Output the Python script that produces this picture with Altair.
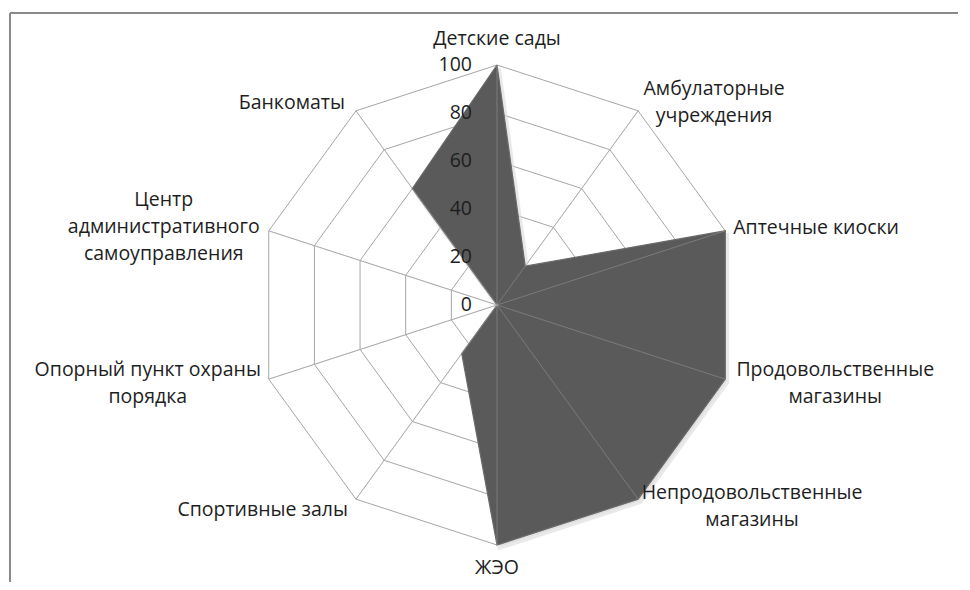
import altair as alt
import pandas as pd

# ---- data ----
categories = [
    "Детские сады",
    "Амбулаторные\nучреждения",
    "Аптечные киоски",
    "Продовольственные\nмагазины",
    "Непродовольственные\nмагазины",
    "ЖЭО",
    "Спортивные залы",
    "Опорный пункт охраны\nпорядка",
    "Центр\nадминистративного\nсамоуправления",
    "Банкоматы",
]
values = [100, 20, 100, 100, 100, 100, 25, 0, 0, 60]
ticks = [0, 20, 40, 60, 80, 100]
tick_labels = ["0", "20", "40", "60", "80", "100"]

N = len(categories)
RMAX = ticks[-1]

poly_df = pd.DataFrame({"idx": list(range(N)) + [N], "value": values + [values[0]]})
ring_rows = []
for lv in ticks[1:]:
    for i in range(N + 1):
        ring_rows.append({"level": lv, "idx": i, "value": lv})
ring_df = pd.DataFrame(ring_rows)
spoke_df = pd.DataFrame({"idx": list(range(N)), "value": [RMAX] * N})
tick_df = pd.DataFrame({"tick": ticks, "label": tick_labels})
label_df = pd.DataFrame({"idx": list(range(N)), "label": categories, "value": [RMAX] * N})

FONT = "Open Sans"
FS = 19.5
TXT = "#1e1e1e"
GRID = "#a6a6a6"
W, H = 950, 574

XS = alt.Scale(domain=[-203.75, -203.75 + W / 2.4], nice=False, zero=False)
YS = alt.Scale(domain=[123.75 - H / 2.4, 123.75], nice=False, zero=False)


def polar(ch, dxu=0.0, dyu=0.0):
    return ch.transform_calculate(
        theta=f"datum.idx * 2 * PI / {N}"
    ).transform_calculate(
        px=f"datum.value * sin(datum.theta) + {dxu}",
        py=f"datum.value * cos(datum.theta) + {dyu}",
    )


def xy(order=None, detail=None):
    enc = dict(
        x=alt.X("px:Q", scale=XS, axis=None),
        y=alt.Y("py:Q", scale=YS, axis=None),
    )
    if order:
        enc["order"] = alt.Order(order)
    if detail:
        enc["detail"] = detail
    return enc


rings = polar(alt.Chart(ring_df).mark_line(stroke=GRID, strokeWidth=1)).encode(
    **xy("idx:Q", "level:N")
)

spokes_base = polar(alt.Chart(spoke_df).mark_rule(stroke=GRID, strokeWidth=1)).transform_calculate(
    zero="0"
).encode(
    x=alt.X("zero:Q", scale=XS, axis=None),
    y=alt.Y("zero:Q", scale=YS, axis=None),
    x2="px:Q",
    y2="py:Q",
)

shadow = polar(
    alt.Chart(poly_df).mark_line(fill="#c8c8c8", stroke="#d8d8d8", strokeWidth=3, opacity=0.55),
    1.0, -1.4,
).encode(**xy("idx:Q"))

area = polar(
    alt.Chart(poly_df).mark_line(fill="#5a5a5a", stroke="#6a6a6a", strokeWidth=1.2)
).encode(**xy("idx:Q"))

spokes_top = polar(alt.Chart(spoke_df).mark_rule(stroke="#b8b8b8", strokeWidth=1, opacity=0.35)).transform_calculate(
    zero="0"
).encode(
    x=alt.X("zero:Q", scale=XS, axis=None),
    y=alt.Y("zero:Q", scale=YS, axis=None),
    x2="px:Q",
    y2="py:Q",
)

tick_text = alt.Chart(tick_df).transform_calculate(px="0", py="datum.tick").mark_text(
    font=FONT, fontSize=FS, color=TXT, align="right", baseline="middle", dx=-25
).encode(x=alt.X("px:Q", scale=XS, axis=None), y=alt.Y("py:Q", scale=YS, axis=None), text="label:N")

label_style = [
    dict(align="center", dx=0, dy=-26),
    dict(align="center", dx=76, dy=-22),
    dict(align="left", dx=8, dy=-3),
    dict(align="center", dx=110, dy=-9),
    dict(align="center", dx=114, dy=-6),
    dict(align="center", dx=0, dy=23),
    dict(align="right", dx=-8, dy=11),
    dict(align="center", dx=-121, dy=-9),
    dict(align="center", dx=-105, dy=-31),
    dict(align="right", dx=-11, dy=-8),
]
label_layers = []
for i, st in enumerate(label_style):
    label_layers.append(
        polar(alt.Chart(label_df))
        .transform_filter(f"datum.idx == {i}")
        .mark_text(font=FONT, fontSize=FS, color=TXT, baseline="middle", lineBreak="\n",
                   lineHeight=27, **st)
        .encode(x=alt.X("px:Q", scale=XS, axis=None), y=alt.Y("py:Q", scale=YS, axis=None), text="label:N")
    )

frame_top = alt.Chart(tick_df).mark_rule(stroke="#8a8a8a", strokeWidth=2).encode(
    x=alt.value(2), x2=alt.value(W), y=alt.value(5)
)
frame_left = alt.Chart(tick_df).mark_rule(stroke="#8a8a8a", strokeWidth=2).encode(
    x=alt.value(2), y=alt.value(5), y2=alt.value(H)
)

chart = alt.layer(
    frame_top, frame_left, rings, spokes_base, shadow, area, spokes_top, tick_text, *label_layers
).properties(
    width=W, height=H, padding=0, autosize=alt.AutoSizeParams(type="none")
).configure_view(stroke=None)

chart.save("out.html", embed_options={"renderer": "svg", "actions": False})
